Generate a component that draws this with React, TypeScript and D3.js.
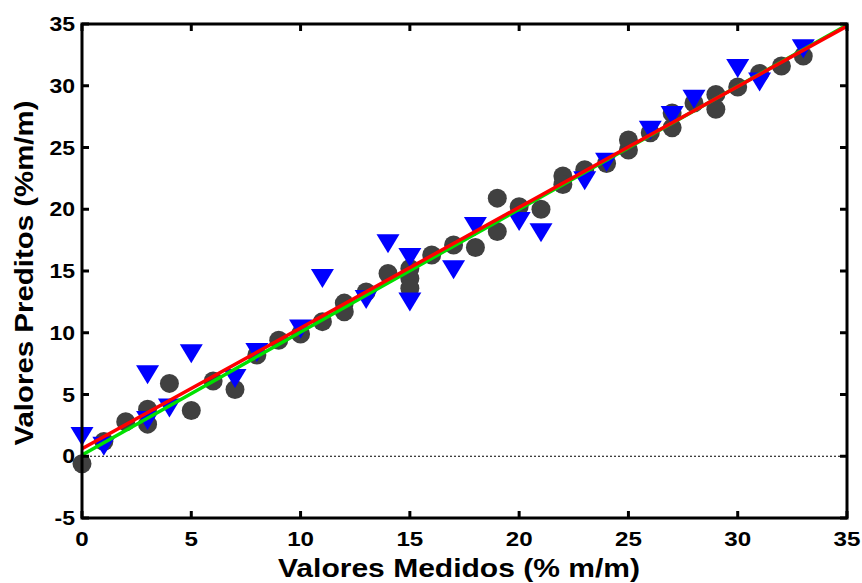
import React from "react";
import * as d3 from "d3";

// Measured (x) values and predicted (y) values – calibration set (circles)
const calX = [0, 1, 2, 3, 3, 4, 5, 6, 7, 8, 9, 10, 11, 12, 12, 13, 14, 15, 15, 15, 16, 17, 18, 19, 19, 20, 21, 22, 22, 23, 24, 25, 25, 26, 27, 27, 28, 29, 29, 30, 31, 32, 33];
const calY = [-0.6, 1.2, 2.8, 3.8, 2.6, 5.9, 3.7, 6.1, 5.4, 8.2, 9.4, 9.9, 10.9, 12.4, 11.7, 13.3, 14.8, 15.2, 14.4, 13.6, 16.3, 17.1, 16.9, 20.9, 18.2, 20.2, 20.0, 22.7, 22.0, 23.2, 23.7, 25.6, 24.8, 26.2, 27.8, 26.6, 28.6, 29.3, 28.1, 29.9, 31.0, 31.6, 32.4];

// Validation set (triangles)
const valX = [0, 1, 3, 3, 4, 5, 7, 8, 10, 11, 13, 14, 15, 15, 17, 18, 20, 21, 23, 24, 26, 27, 28, 30, 31, 33];
const valY = [1.6, 0.8, 6.6, 2.9, 3.9, 8.3, 6.3, 8.4, 10.3, 14.4, 12.7, 17.2, 16.1, 12.5, 15.1, 18.6, 19.0, 18.1, 22.3, 23.8, 26.4, 27.6, 28.9, 31.4, 30.3, 33.0];

// Fit lines: [intercept, slope]
const idealLine = [0.1, 0.995];
const fitLine = [0.6, 0.978];
const lineX = [0, 35];

const xTicks = [0, 5, 10, 15, 20, 25, 30, 35];
const yTicks = [-5, 0, 5, 10, 15, 20, 25, 30, 35];

const W = 862;
const H = 583;
const left = 82, right = 847, top = 24, bottom = 518;

export default function App() {
  const x = d3.scaleLinear().domain([0, 35]).range([left, right]);
  const y = d3.scaleLinear().domain([-5, 35]).range([bottom, top]);
  const line = d3.line<[number, number]>().x(d => x(d[0])).y(d => y(d[1]));
  const mk = (c: number[]) => lineX.map(v => [v, c[0] + c[1] * v] as [number, number]);
  const font = "'Liberation Sans', Arial, Helvetica, sans-serif";
  const tickLen = 7;
  const sx = 1.15;

  return (
    <svg width={W} height={H} style={{ position: "absolute", left: 0, top: 0, background: "#fff" }} fontFamily={font}>
      <rect x={0} y={0} width={W} height={H} fill="#fff" />
      {/* zero reference */}
      <line x1={x(0)} x2={x(35)} y1={y(0)} y2={y(0)} stroke="#000" strokeWidth={1} strokeDasharray="2,2" />
      {/* circles */}
      {calX.map((v, i) => (
        <circle key={"c" + i} cx={x(v)} cy={y(calY[i])} r={9.5} fill="#404040" />
      ))}
      {/* triangles */}
      {valX.map((v, i) => (
        <path key={"t" + i} transform={`translate(${x(v)},${y(valY[i])})`} d="M-11.5,-9.5L11.5,-9.5L0,9.5Z" fill="#0000ff" />
      ))}
      {/* lines */}
      <path d={line(mk(idealLine)) || ""} stroke="#00e000" strokeWidth={3.5} fill="none" />
      <path d={line(mk(fitLine)) || ""} stroke="#ff0000" strokeWidth={3.5} fill="none" />
      {/* frame */}
      <rect x={left} y={top} width={right - left} height={bottom - top} fill="none" stroke="#000" strokeWidth={3} />
      {xTicks.map(t => (
        <g key={"xt" + t}>
          <line x1={x(t)} x2={x(t)} y1={bottom} y2={bottom - tickLen} stroke="#000" strokeWidth={3} />
          <line x1={x(t)} x2={x(t)} y1={top} y2={top + tickLen} stroke="#000" strokeWidth={3} />
          <text transform={`translate(${x(t)},546) scale(${sx},1)`} textAnchor="middle" fontSize={21} fontWeight="bold">{t}</text>
        </g>
      ))}
      {yTicks.map(t => (
        <g key={"yt" + t}>
          <line x1={left} x2={left + tickLen} y1={y(t)} y2={y(t)} stroke="#000" strokeWidth={3} />
          <line x1={right} x2={right - tickLen} y1={y(t)} y2={y(t)} stroke="#000" strokeWidth={3} />
          <text transform={`translate(75,${y(t)}) scale(${sx},1)`} dy="0.36em" textAnchor="end" fontSize={20} fontWeight="bold">{t}</text>
        </g>
      ))}
      <text x={459} y={577} textAnchor="middle" fontSize={25} fontWeight="bold" textLength={362} lengthAdjust="spacingAndGlyphs">Valores Medidos (% m/m)</text>
      <text transform={`translate(33,273) rotate(-90)`} textAnchor="middle" fontSize={25} fontWeight="bold" textLength={345} lengthAdjust="spacingAndGlyphs">Valores Preditos (%m/m)</text>
    </svg>
  );
}
